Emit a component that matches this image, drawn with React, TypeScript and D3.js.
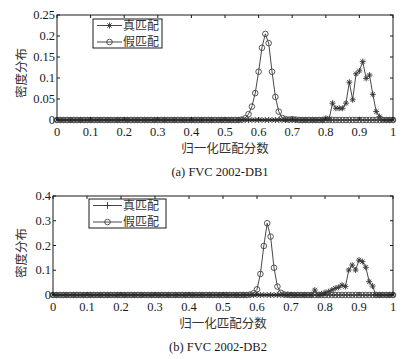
import React from "react";
import * as d3 from "d3";

// normalized match score grid (0 .. 1, step 0.01)
const scores = d3.range(0, 101).map((i) => i / 100);
const xTicks = [0, 0.1, 0.2, 0.3, 0.4, 0.5, 0.6, 0.7, 0.8, 0.9, 1];

// (a) FVC 2002-DB1
const genuineA = [
  0, 0, 0, 0, 0, 0, 0, 0, 0, 0,
  0, 0, 0, 0, 0, 0, 0, 0, 0, 0,
  0, 0, 0, 0, 0, 0, 0, 0, 0, 0,
  0, 0, 0, 0, 0, 0, 0, 0, 0, 0,
  0, 0, 0, 0, 0, 0, 0, 0, 0, 0,
  0, 0, 0, 0, 0, 0, 0, 0, 0, 0,
  0, 0, 0, 0, 0, 0, 0, 0, 0, 0,
  0, 0, 0, 0, 0, 0, 0, 0, 0, 0,
  0.004, 0.003, 0.04, 0.028, 0.028, 0.028, 0.04, 0.09, 0.048, 0.11,
  0.117, 0.139, 0.099, 0.107, 0.061, 0.02, 0.008, 0, 0, 0,
  0,
];
const impostorA = [
  0, 0, 0, 0, 0, 0, 0, 0, 0, 0,
  0, 0, 0, 0, 0, 0, 0, 0, 0, 0,
  0, 0, 0, 0, 0, 0, 0, 0, 0, 0,
  0, 0, 0, 0, 0, 0, 0, 0, 0, 0,
  0, 0, 0, 0, 0, 0, 0, 0, 0, 0,
  0, 0, 0, 0, 0, 0.001, 0.004, 0.014, 0.032, 0.064,
  0.115, 0.172, 0.205, 0.183, 0.115, 0.055, 0.02, 0.005, 0.002, 0.001,
  0.002, 0.001, 0, 0, 0, 0, 0, 0, 0, 0,
  0, 0, 0, 0, 0, 0, 0, 0, 0, 0,
  0, 0, 0, 0, 0, 0, 0, 0, 0, 0,
  0,
];
const yTicksA = [0, 0.05, 0.1, 0.15, 0.2, 0.25];

// (b) FVC 2002-DB2
const genuineB = [
  0, 0, 0, 0, 0, 0, 0, 0, 0, 0,
  0, 0, 0, 0, 0, 0, 0, 0, 0, 0,
  0, 0, 0, 0, 0, 0, 0, 0, 0, 0,
  0, 0, 0, 0, 0, 0, 0, 0, 0, 0,
  0, 0, 0, 0, 0, 0, 0, 0, 0, 0,
  0, 0, 0, 0, 0, 0, 0, 0, 0, 0,
  0, 0, 0, 0, 0, 0, 0, 0, 0, 0,
  0, 0, 0, 0, 0, 0, 0, 0.02, 0, 0.005,
  0.01, 0.013, 0.02, 0.027, 0.031, 0.04, 0.034, 0.101, 0.121, 0.101,
  0.141, 0.135, 0.112, 0.054, 0.036, 0, 0, 0, 0, 0,
  0,
];
const impostorB = [
  0, 0, 0, 0, 0, 0, 0, 0, 0, 0,
  0, 0, 0, 0, 0, 0, 0, 0, 0, 0,
  0, 0, 0, 0, 0, 0, 0, 0, 0, 0,
  0, 0, 0, 0, 0, 0, 0, 0, 0, 0,
  0, 0, 0, 0, 0, 0, 0, 0, 0, 0,
  0, 0, 0, 0, 0, 0, 0, 0, 0.002, 0.007,
  0.023, 0.085, 0.198, 0.29, 0.236, 0.11, 0.034, 0.009, 0.002, 0.001,
  0, 0, 0, 0, 0, 0, 0, 0, 0, 0,
  0, 0, 0, 0, 0, 0, 0, 0, 0, 0,
  0, 0, 0, 0, 0, 0, 0, 0, 0, 0,
  0,
];
const yTicksB = [0, 0.1, 0.2, 0.3, 0.4];

const legendLabels = ["真匹配", "假匹配"];
const xTitle = "归一化匹配分数";
const yTitle = "密度分布";

const numFont = "'Liberation Serif', 'Noto Sans CJK SC', serif";
const cjkFont = "'Noto Sans CJK SC', 'Liberation Serif', serif";
const ink = "#1a1a1a";

const star = (x: number, y: number, s: number) => {
  const d = s * 0.72;
  return `M${x - s},${y}L${x + s},${y}M${x},${y - s}L${x},${y + s}` +
    `M${x - d},${y - d}L${x + d},${y + d}M${x - d},${y + d}L${x + d},${y - d}`;
};
const plus = (x: number, y: number, s: number) =>
  `M${x - s},${y}L${x + s},${y}M${x},${y - s}L${x},${y + s}`;

interface PanelProps {
  left: number;
  right: number;
  top: number;
  bottom: number;
  yMax: number;
  yTicks: number[];
  genuine: number[];
  impostor: number[];
  caption: string;
  legend: { x: number; y: number; w: number; h: number; lineStart: number; lineEnd: number };
  legendMarker: "star" | "plus";
  yTitleY: number;
}

const Panel = (p: PanelProps) => {
  const x = d3.scaleLinear().domain([0, 1]).range([p.left, p.right]);
  const y = d3.scaleLinear().domain([0, p.yMax]).range([p.bottom, p.top]);
  const line = d3
    .line<number>()
    .x((_, i) => x(scores[i]))
    .y((d) => y(d));
  const tl = 3;

  return (
    <g>
      {/* series */}
      <path d={line(p.genuine) || ""} fill="none" stroke="#333" strokeWidth={0.9} />
      <path d={line(p.impostor) || ""} fill="none" stroke="#333" strokeWidth={0.9} />
      <path
        d={p.genuine.map((d, i) => star(x(scores[i]), y(d), 3)).join("")}
        fill="none"
        stroke="#333"
        strokeWidth={0.9}
      />
      <g fill="none" stroke="#444" strokeWidth={0.9}>
        {p.impostor.map((d, i) => (
          <circle key={i} cx={x(scores[i])} cy={y(d)} r={2.8} />
        ))}
      </g>

      {/* frame */}
      <rect
        x={p.left}
        y={p.top}
        width={p.right - p.left}
        height={p.bottom - p.top}
        fill="none"
        stroke={ink}
        strokeWidth={1}
      />
      <g stroke={ink} strokeWidth={1}>
        {xTicks.map((t) => (
          <g key={t}>
            <line x1={x(t)} x2={x(t)} y1={p.bottom} y2={p.bottom - tl} />
            <line x1={x(t)} x2={x(t)} y1={p.top} y2={p.top + tl} />
          </g>
        ))}
        {p.yTicks.map((t) => (
          <g key={t}>
            <line x1={p.left} x2={p.left + tl} y1={y(t)} y2={y(t)} />
            <line x1={p.right} x2={p.right - tl} y1={y(t)} y2={y(t)} />
          </g>
        ))}
      </g>

      {/* tick labels */}
      <g fontFamily={numFont} fontSize={12.5} fill={ink}>
        {xTicks.map((t) => (
          <text key={t} x={x(t)} y={p.bottom + 16} textAnchor="middle">
            {String(t)}
          </text>
        ))}
        {p.yTicks.map((t) => (
          <text key={t} x={p.left - 2} y={y(t) + 4} textAnchor="end">
            {String(t)}
          </text>
        ))}
      </g>

      {/* axis titles */}
      <text
        x={(p.left + p.right) / 2}
        y={p.bottom + 33}
        textAnchor="middle"
        fontFamily={cjkFont}
        fontSize={12.5}
        fill="#333"
      >
        {xTitle}
      </text>
      <text
        transform={`translate(26,${p.yTitleY}) rotate(-90)`}
        textAnchor="middle"
        fontFamily={cjkFont}
        fontSize={12.5}
        fill="#333"
      >
        {yTitle}
      </text>
      <text
        x={(p.left + p.right) / 2 - 5}
        y={p.bottom + 56}
        textAnchor="middle"
        fontFamily={numFont}
        fontSize={12.5}
        fill={ink}
      >
        {p.caption}
      </text>

      {/* legend */}
      <rect
        x={p.legend.x}
        y={p.legend.y}
        width={p.legend.w}
        height={p.legend.h}
        fill="#fff"
        stroke={ink}
        strokeWidth={1}
      />
      {legendLabels.map((label, i) => {
        const ly = p.legend.y + 6.5 + i * 16.5;
        const mx = (p.legend.lineStart + p.legend.lineEnd) / 2;
        return (
          <g key={label}>
            <line
              x1={p.legend.lineStart}
              x2={p.legend.lineEnd}
              y1={ly}
              y2={ly}
              stroke="#333"
              strokeWidth={0.9}
            />
            {i === 0 ? (
              <path
                d={p.legendMarker === "star" ? star(mx, ly, 3) : plus(mx, ly, 3.4)}
                fill="none"
                stroke="#333"
                strokeWidth={0.9}
              />
            ) : (
              <circle cx={mx} cy={ly} r={2.8} fill="none" stroke="#444" strokeWidth={0.9} />
            )}
            <text
              x={p.legend.lineEnd + 1}
              y={ly + 4.3}
              fontFamily={cjkFont}
              fontSize={12}
              fill="#333"
            >
              {label}
            </text>
          </g>
        );
      })}
    </g>
  );
};

const App = () => {
  return (
    <svg
      width={413}
      height={359}
      style={{ position: "absolute", left: 0, top: 0, background: "#fff" }}
    >
      <Panel
        left={57}
        right={393}
        top={15}
        bottom={120}
        yMax={0.25}
        yTicks={yTicksA}
        genuine={genuineA}
        impostor={impostorA}
        caption="(a) FVC 2002-DB1"
        legend={{ x: 93, y: 19, w: 69, h: 29, lineStart: 97, lineEnd: 122 }}
        legendMarker="star"
        yTitleY={73}
      />
      <Panel
        left={53}
        right={393}
        top={196}
        bottom={295}
        yMax={0.4}
        yTicks={yTicksB}
        genuine={genuineB}
        impostor={impostorB}
        caption="(b) FVC 2002-DB2"
        legend={{ x: 89, y: 199, w: 77, h: 29, lineStart: 93, lineEnd: 122 }}
        legendMarker="plus"
        yTitleY={253}
      />
    </svg>
  );
};

export default App;
